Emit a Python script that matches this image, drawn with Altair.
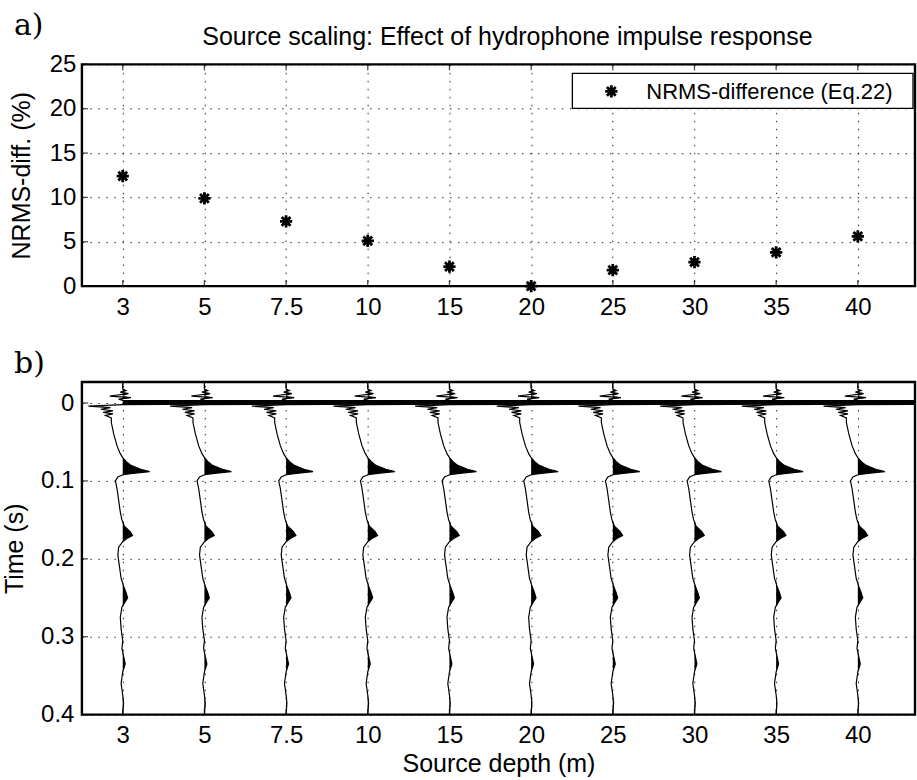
import altair as alt
import pandas as pd

# ---------------- data ----------------
DEPTH_LABELS = ["3", "5", "7.5", "10", "15", "20", "25", "30", "35", "40"]
NRMS_DIFF = [12.4, 9.9, 7.3, 5.1, 2.2, 0.0, 1.8, 2.7, 3.8, 5.6]
NRMS_TICKS = [0, 5, 10, 15, 20, 25]
TIME_TICKS = [0, 0.1, 0.2, 0.3, 0.4]
LEGEND_LABEL = "NRMS-difference (Eq.22)"
TITLE = "Source scaling: Effect of hydrophone impulse response"

# one wiggle trace (time in s, amplitude in units of trace spacing)
WAVE_T = [-0.030, -0.018, -0.016, -0.014, -0.012, -0.009, -0.007, -0.005, -0.0035,
          -0.003, 0.0015, 0.002, 0.003, 0.004, 0.006, 0.008, 0.010, 0.012, 0.014,
          0.016, 0.019, 0.025, 0.040, 0.055, 0.065, 0.070, 0.075, 0.080, 0.085,
          0.088, 0.090, 0.092, 0.095, 0.100, 0.110, 0.125, 0.140, 0.150, 0.158,
          0.165, 0.170, 0.174, 0.178, 0.185, 0.195, 0.210, 0.225, 0.235, 0.243,
          0.250, 0.255, 0.262, 0.275, 0.290, 0.305, 0.315, 0.325, 0.335, 0.345,
          0.360, 0.375, 0.385, 0.400]
WAVE_A = [0.0, 0.0, 0.04, -0.03, 0.07, -0.16, 0.10, -0.05, 0.0,
          1.0, 1.0, 0.0, -0.2, -0.42, -0.15, -0.27, -0.12, -0.24, -0.12,
          -0.21, -0.14, -0.14, -0.11, -0.07, -0.03, 0.0, 0.04, 0.10, 0.22,
          0.33, 0.15, 0.0, -0.06, -0.09, -0.07, -0.05, -0.03, -0.01, 0.02,
          0.09, 0.12, 0.05, 0.0, -0.05, -0.06, -0.04, -0.02, 0.01, 0.04,
          0.06, 0.03, -0.01, -0.03, -0.02, 0.0, -0.01, 0.01, 0.03, 0.0,
          -0.02, 0.0, 0.01, 0.0]

# ---------------- layout / style ----------------
FONT = "Liberation Sans"
W = 834
HA = 222
HB = 333
STAR = "M-1,0H1M0,-1V1M-0.72,-0.72L0.72,0.72M-0.72,0.72L0.72,-0.72"

idx = list(range(1, len(DEPTH_LABELS) + 1))
dfA = pd.DataFrame({"idx": idx, "nrms": NRMS_DIFF})
dfIdx = pd.DataFrame({"idx": idx})
dfNt = pd.DataFrame({"v": NRMS_TICKS})
dfTt = pd.DataFrame({"v": TIME_TICKS})
one = pd.DataFrame({"k": [0]})

rows = []
for i in idx:
    for t, a in zip(WAVE_T, WAVE_A):
        rows.append({"trace": i, "t": t, "base": i, "xa": i + a, "xp": i + max(a, 0.0)})
dfW = pd.DataFrame(rows)

label_expr = "[" + ",".join(f"'{l}'" for l in DEPTH_LABELS) + "][datum.value-1]"
xscale = alt.Scale(domain=[0.5, 10.7], nice=False, zero=False)


def x_enc(field, title=None, pad=9):
    return alt.X(f"{field}:Q", scale=xscale,
                 axis=alt.Axis(values=idx, labelExpr=label_expr, title=title,
                               labelPadding=pad, titlePadding=4, grid=True))


# ---------------- panel a ----------------
yscaleA = alt.Scale(domain=[0, 25], nice=False)
yaxA = alt.Axis(values=NRMS_TICKS, title="NRMS-diff. (%)", grid=True,
                labelPadding=6, titlePadding=15)

pts = alt.Chart(dfA).mark_point(shape=STAR, size=150, filled=False,
                                strokeWidth=2.8, color="black", opacity=1).encode(
    x=x_enc("idx"), y=alt.Y("nrms:Q", scale=yscaleA, axis=yaxA))

ticks_bot_a = alt.Chart(dfIdx).mark_tick(color="black", thickness=1.3, size=6).encode(
    x=x_enc("idx"), y=alt.value(HA - 3))
ticks_top_a = alt.Chart(dfIdx).mark_tick(color="black", thickness=1.3, size=6).encode(
    x=x_enc("idx"), y=alt.value(3))
ticks_left_a = alt.Chart(dfNt).mark_tick(color="black", thickness=1.3, size=6).encode(
    y=alt.Y("v:Q", scale=yscaleA, axis=yaxA), x=alt.value(3))

leg_box = alt.Chart(one).mark_rect(fill="white", stroke="black", strokeWidth=1.3).encode(
    x=alt.value(491), x2=alt.value(832), y=alt.value(9), y2=alt.value(44))
leg_pt = alt.Chart(one).mark_point(shape=STAR, size=150, filled=False,
                                   strokeWidth=2.8, color="black", opacity=1).encode(
    x=alt.value(530), y=alt.value(27))
leg_txt = alt.Chart(one).mark_text(font=FONT, fontSize=22, align="left",
                                   baseline="middle", color="black").encode(
    x=alt.value(565), y=alt.value(27.5), text=alt.value(LEGEND_LABEL))
lab_a = alt.Chart(one).mark_text(font="DejaVu Serif", fontSize=30, align="left",
                                 baseline="middle", color="black").encode(
    x=alt.value(-68), y=alt.value(-38), text=alt.value("a)"))
title_a = alt.Chart(one).mark_text(font=FONT, fontSize=25, align="center",
                                   baseline="middle", color="black").encode(
    x=alt.value(426), y=alt.value(-27), text=alt.value(TITLE))

panelA = alt.layer(ticks_bot_a, ticks_top_a, ticks_left_a, pts, leg_box, leg_pt,
                   leg_txt, lab_a, title_a).properties(width=W, height=HA)

# ---------------- panel b ----------------
yscaleB = alt.Scale(domain=[-0.027, 0.4], nice=False, zero=False, reverse=True)
yaxB = alt.Axis(values=TIME_TICKS, title="Time (s)", grid=True, format="~g",
                labelPadding=8, titlePadding=13)

XT = "Source depth (m)"
# positive lobes filled black (variable-area wiggle display)
fill = alt.Chart(dfW).mark_area(orient="horizontal", fill="black", strokeWidth=0,
                                clip=True).encode(
    y=alt.Y("t:Q", scale=yscaleB, axis=yaxB),
    x=x_enc("base", XT, 9), x2=alt.X2("xp"),
    detail="trace:N")
wig = alt.Chart(dfW).mark_line(color="black", strokeWidth=1.2, clip=True).encode(
    y=alt.Y("t:Q", scale=yscaleB, axis=yaxB),
    x=x_enc("xa", XT, 9),
    detail="trace:N", order=alt.Order("t:Q"))

ticks_bot_b = alt.Chart(dfIdx).mark_tick(color="black", thickness=1.3, size=6).encode(
    x=x_enc("idx", XT, 9), y=alt.value(HB - 3))
ticks_top_b = alt.Chart(dfIdx).mark_tick(color="black", thickness=1.3, size=6).encode(
    x=x_enc("idx", XT, 9), y=alt.value(3))
ticks_left_b = alt.Chart(dfTt).mark_tick(color="black", thickness=1.3, size=6).encode(
    y=alt.Y("v:Q", scale=yscaleB, axis=yaxB), x=alt.value(3))
lab_b = alt.Chart(one).mark_text(font="DejaVu Serif", fontSize=30, align="left",
                                 baseline="middle", color="black").encode(
    x=alt.value(-68), y=alt.value(-18), text=alt.value("b)"))

panelB = alt.layer(fill, wig, ticks_bot_b, ticks_top_b, ticks_left_b,
                   lab_b).properties(width=W, height=HB)

chart = alt.vconcat(panelA, panelB, spacing=26).properties(
    padding={"left": 1, "top": 9, "right": 0, "bottom": 0},
    background="white",
).configure_view(stroke="black", strokeWidth=2.4).configure_axis(
    domain=False, ticks=False,
    labelFont=FONT, labelFontSize=24, labelColor="black",
    titleFont=FONT, titleFontSize=25, titleFontWeight="normal", titleColor="black",
    gridColor="black", gridDash=[1.5, 6.5], gridWidth=1, gridOpacity=0.85,
)

chart.save("out.html", embed_options={"renderer": "svg", "actions": False})
